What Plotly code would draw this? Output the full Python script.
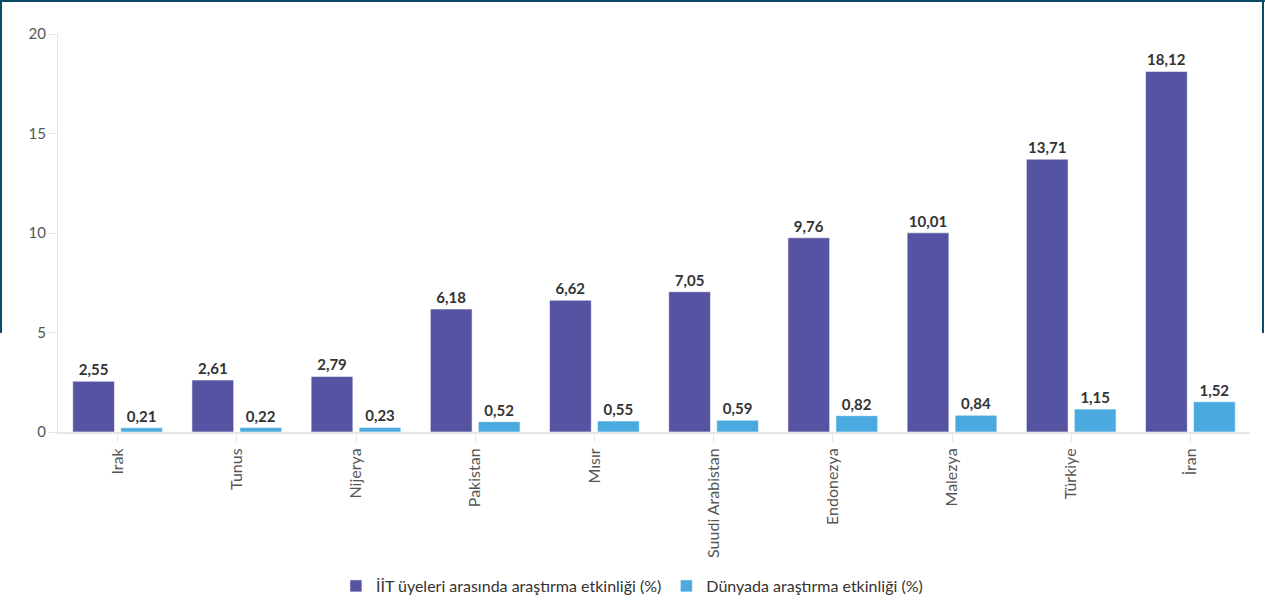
import plotly.graph_objects as go

# Research activity of OIC member countries
countries = ["Irak", "Tunus", "Nijerya", "Pakistan", "Mısır", "Suudi Arabistan",
             "Endonezya", "Malezya", "Türkiye", "İran"]
oic_share = [2.55, 2.61, 2.79, 6.18, 6.62, 7.05, 9.76, 10.01, 13.71, 18.12]
world_share = [0.21, 0.22, 0.23, 0.52, 0.55, 0.59, 0.82, 0.84, 1.15, 1.52]
series_names = ["İİT üyeleri arasında araştırma etkinliği (%)",
                "Dünyada araştırma etkinliği (%)"]
y_ticks = [0, 5, 10, 15, 20]

PURPLE = "#5654a2"
BLUE = "#4aaadf"
FONT = "Lato, 'Source Sans Pro', sans-serif"

fig = go.Figure()
for name, vals, color in [(series_names[0], oic_share, PURPLE),
                          (series_names[1], world_share, BLUE)]:
    fig.add_trace(go.Bar(
        x=countries, y=vals, name=name,
        marker=dict(color=color, line=dict(color="rgba(255,255,255,0.55)", width=1)),
        texttemplate="%{y:.2f}", textposition="outside", cliponaxis=False,
        textfont=dict(family=FONT, size=15, color="#333333", weight="bold"),
        hoverinfo="skip",
    ))

# Frame around the upper part of the page
frame = "#0b4a66"
shapes = [
    dict(type="line", xref="paper", yref="paper", x0=-0.0478, x1=-0.0478,
         y0=1.0829, y1=0.2487, line=dict(color=frame, width=2)),
    dict(type="line", xref="paper", yref="paper", x0=-0.0495, x1=1.0125,
         y0=1.0829, y1=1.0829, line=dict(color=frame, width=2)),
    dict(type="line", xref="paper", yref="paper", x0=1.0109, x1=1.0109,
         y0=1.0829, y1=0.2487, line=dict(color=frame, width=2)),
]

fig.update_layout(
    width=1265, height=603,
    margin=dict(l=58, r=15, t=34, b=171, autoexpand=False),
    paper_bgcolor="white", plot_bgcolor="white",
    separators=",.",
    barmode="group", bargap=0.195, bargroupgap=0.13,
    font=dict(family=FONT, color="#555555", size=15),
    showlegend=True,
    legend=dict(orientation="h", x=0.4815, xanchor="center", y=-0.387, yanchor="middle",
                font=dict(family=FONT, size=16, color="#333333"),
                itemwidth=30, traceorder="normal"),
    shapes=shapes,
)
fig.update_yaxes(range=[0, 20], tickvals=y_ticks, showgrid=False, zeroline=False,
                 showline=True, linecolor="#e6e6e6", linewidth=1, automargin=False,
                 ticks="outside", ticklen=8, tickcolor="#e6e6e6",
                 tickfont=dict(size=15, color="#555555"))
fig.update_xaxes(showgrid=False, showline=True, linecolor="#e6e6e6", linewidth=2,
                 automargin=False,
                 ticks="outside", ticklen=8, tickcolor="#e6e6e6", tickangle=-90,
                 tickfont=dict(size=16, color="#555555"))

fig.write_html("out.html")
